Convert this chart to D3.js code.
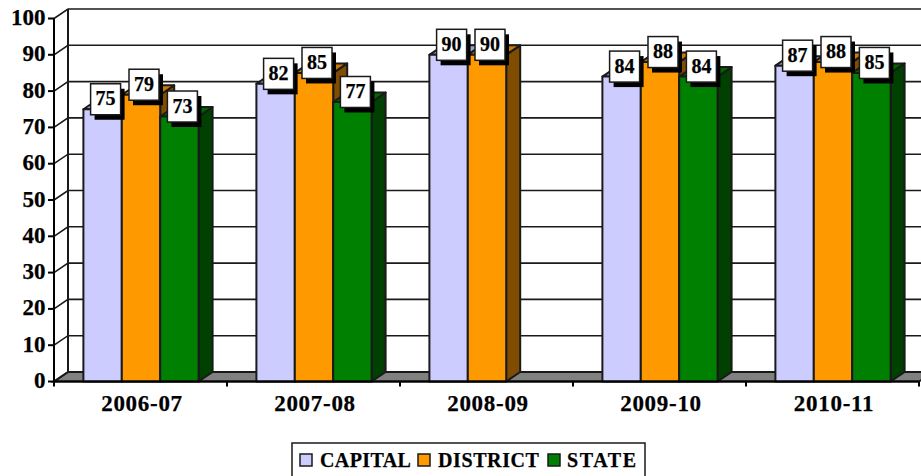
<!DOCTYPE html>
<html>
<head>
<meta charset="utf-8">
<script src="https://cdn.jsdelivr.net/npm/d3@7"></script>
<style>
  html, body { margin: 0; padding: 0; background: #fff; overflow: hidden; }
  text { font-family: "Liberation Serif", serif; font-weight: bold; fill: #000; stroke: #000; stroke-width: 0.25px; }
</style>
</head>
<body>
<div id="chart"></div>
<script>
const categories = ["2006-07", "2007-08", "2008-09", "2009-10", "2010-11"];
const seriesNames = ["CAPITAL", "DISTRICT", "STATE"];
const capital = [75, 82, 90, 84, 87];
const district = [79, 85, 90, 88, 88];
const state = [73, 77, null, 84, 85];
const seriesValues = [capital, district, state];
const yTicks = [0, 10, 20, 30, 40, 50, 60, 70, 80, 90, 100];

const frontColors = ["#CCCCFF", "#FF9900", "#008000"];
const topColors = ["#A3A3CC", "#CC7A00", "#006600"];
const sideColors = ["#66667F", "#7F4C00", "#004000"];

const width = 921, height = 476;
const depthX = 14, depthY = -9.5;
const lineColor = "#1a1a1a";

const svg = d3.select("#chart").append("svg")
  .attr("width", width)
  .attr("height", height);

const x = d3.scaleBand()
  .domain(categories)
  .range([54.5, 919.5]);

const y = d3.scaleLinear()
  .domain([0, 100])
  .range([381.5, 18.5]);

const barW = 38.4;
const pts = a => a.map(p => p.join(",")).join(" ");

// floor
svg.append("polygon")
  .attr("points", pts([[54, y(0)], [54 + depthX, y(0) + depthY], [919 + depthX, y(0) + depthY], [919, y(0)]]))
  .attr("fill", "#808080")
  .attr("stroke", lineColor)
  .attr("stroke-width", 2);

// gridlines: short diagonal on the side wall, then along the back wall
svg.append("g").selectAll("path")
  .data(yTicks)
  .enter()
  .append("path")
  .attr("d", d => `M54,${y(d)}L${54 + depthX},${y(d) + depthY}H${919 + depthX}`)
  .attr("fill", "none")
  .attr("stroke", lineColor)
  .attr("stroke-width", 1.6);

// back wall left edge
svg.append("line")
  .attr("x1", 54 + depthX).attr("x2", 54 + depthX)
  .attr("y1", y(0) + depthY).attr("y2", y(100) + depthY)
  .attr("stroke", lineColor).attr("stroke-width", 2);

// bars
const bars = [];
categories.forEach((c, i) => {
  seriesValues.forEach((vals, s) => {
    if (vals[i] !== null) bars.push({ c, s, v: vals[i] });
  });
});

const left = d => x(d.c) + x.bandwidth() / 2 - barW * 1.5 + d.s * barW;

const barG = svg.append("g")
  .attr("stroke", lineColor)
  .attr("stroke-width", 2)
  .attr("stroke-linejoin", "round");

bars.forEach(d => {
  const x0 = left(d), x1 = x0 + barW, top = y(d.v), base = y(0);
  barG.append("polygon")
    .attr("points", pts([[x1, base], [x1, top], [x1 + depthX, top + depthY], [x1 + depthX, base + depthY]]))
    .attr("fill", sideColors[d.s]);
  barG.append("polygon")
    .attr("points", pts([[x0, top], [x0 + depthX, top + depthY], [x1 + depthX, top + depthY], [x1, top]]))
    .attr("fill", topColors[d.s]);
  barG.append("rect")
    .attr("x", x0).attr("y", top)
    .attr("width", barW).attr("height", base - top)
    .attr("fill", frontColors[d.s]);
});

// front axis lines
svg.append("line")
  .attr("x1", 54).attr("x2", 54)
  .attr("y1", y(100)).attr("y2", y(0))
  .attr("stroke", "#000").attr("stroke-width", 2);
svg.append("line")
  .attr("x1", 54).attr("x2", 919)
  .attr("y1", y(0)).attr("y2", y(0))
  .attr("stroke", "#000").attr("stroke-width", 2);

// y axis ticks + labels
svg.append("g").selectAll("line")
  .data(yTicks)
  .enter()
  .append("line")
  .attr("x1", 48).attr("x2", 54)
  .attr("y1", d => y(d)).attr("y2", d => y(d))
  .attr("stroke", "#000").attr("stroke-width", 2);

svg.append("g").selectAll("text")
  .data(yTicks)
  .enter()
  .append("text")
  .attr("x", 45.5)
  .attr("y", d => y(d) + 6.5)
  .attr("text-anchor", "end")
  .style("font-size", "23px")
  .text(d => d);

// x axis ticks + labels
svg.append("g").selectAll("line")
  .data(d3.range(categories.length + 1))
  .enter()
  .append("line")
  .attr("x1", i => 54 + i * x.bandwidth())
  .attr("x2", i => 54 + i * x.bandwidth())
  .attr("y1", y(0)).attr("y2", y(0) + 5)
  .attr("stroke", "#000").attr("stroke-width", 2);

svg.append("g").selectAll("text")
  .data(categories)
  .enter()
  .append("text")
  .attr("x", d => x(d) + x.bandwidth() / 2 + 1)
  .attr("y", 411)
  .attr("text-anchor", "middle")
  .style("font-size", "23px")
  .style("letter-spacing", "0.7px")
  .text(d => d);

// data labels with offset shadow
const labelG = svg.append("g");
bars.forEach(d => {
  const cx = left(d) + barW / 2 + 3, cy = y(d.v) - 10;
  labelG.append("rect")
    .attr("x", cx - 15 + 4).attr("y", cy - 15.5 + 5)
    .attr("width", 30).attr("height", 31)
    .attr("fill", "#000");
  labelG.append("rect")
    .attr("x", cx - 15).attr("y", cy - 15.5)
    .attr("width", 30).attr("height", 31)
    .attr("fill", "#fff")
    .attr("stroke", lineColor)
    .attr("stroke-width", 1.5);
  labelG.append("text")
    .attr("x", cx).attr("y", cy + 6)
    .attr("text-anchor", "middle")
    .style("font-size", "20px")
    .text(d.v);
});

// legend
const legend = svg.append("g");
legend.append("rect")
  .attr("x", 292).attr("y", 443)
  .attr("width", 353).attr("height", 40)
  .attr("fill", "#fff").attr("stroke", lineColor).attr("stroke-width", 1.5);

const legendSwatchX = [300, 418, 548];
const legendTextX = [320, 438, 567];
const legendSpacing = [0.4, 0.6, 1.6];
seriesNames.forEach((name, i) => {
  legend.append("rect")
    .attr("x", legendSwatchX[i]).attr("y", 454)
    .attr("width", 12).attr("height", 12)
    .attr("fill", frontColors[i])
    .attr("stroke", lineColor).attr("stroke-width", 1.5);
  legend.append("text")
    .attr("x", legendTextX[i]).attr("y", 467)
    .style("font-size", "20px")
    .style("letter-spacing", legendSpacing[i] + "px")
    .text(name);
});
</script>
</body>
</html>
